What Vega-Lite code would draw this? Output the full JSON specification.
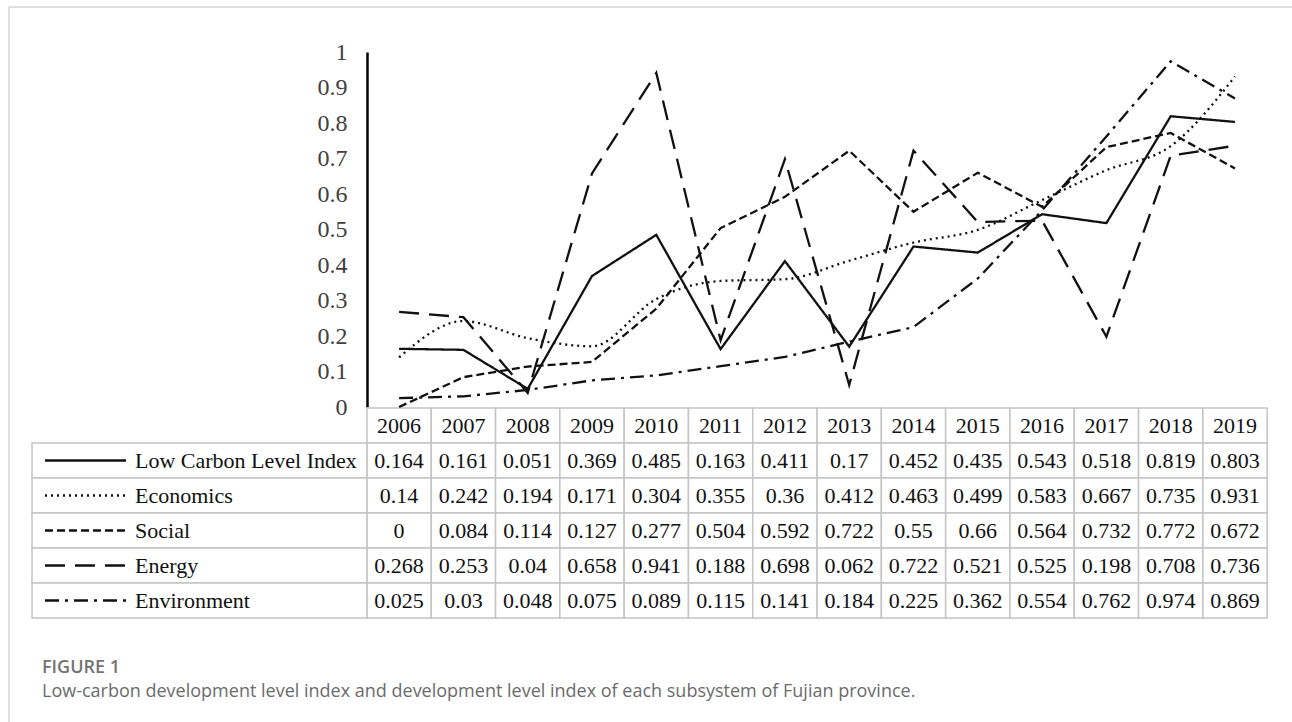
{
  "$schema": "https://vega.github.io/schema/vega-lite/v6.json",
  "width": 1292,
  "height": 722,
  "autosize": {"type": "none"},
  "padding": 0,
  "background": "white",
  "config": {"view": {"stroke": null}, "font": "Liberation Serif"},
  "title": {
    "text": "FIGURE 1",
    "subtitle": "Low-carbon development level index and development level index of each subsystem of Fujian province.",
    "orient": "bottom",
    "anchor": "start",
    "frame": "group",
    "offset": -64,
    "dx": 42,
    "font": "Open Sans",
    "fontSize": 18,
    "fontWeight": 600,
    "color": "#737373",
    "subtitleFont": "Open Sans",
    "subtitleFontSize": 18,
    "subtitleColor": "#6b6b6b",
    "subtitlePadding": 6
  },
  "data": {
    "values": [
      {"year": 2006, "series": "Low Carbon Level Index", "value": 0.164},
      {"year": 2007, "series": "Low Carbon Level Index", "value": 0.161},
      {"year": 2008, "series": "Low Carbon Level Index", "value": 0.051},
      {"year": 2009, "series": "Low Carbon Level Index", "value": 0.369},
      {"year": 2010, "series": "Low Carbon Level Index", "value": 0.485},
      {"year": 2011, "series": "Low Carbon Level Index", "value": 0.163},
      {"year": 2012, "series": "Low Carbon Level Index", "value": 0.411},
      {"year": 2013, "series": "Low Carbon Level Index", "value": 0.17},
      {"year": 2014, "series": "Low Carbon Level Index", "value": 0.452},
      {"year": 2015, "series": "Low Carbon Level Index", "value": 0.435},
      {"year": 2016, "series": "Low Carbon Level Index", "value": 0.543},
      {"year": 2017, "series": "Low Carbon Level Index", "value": 0.518},
      {"year": 2018, "series": "Low Carbon Level Index", "value": 0.819},
      {"year": 2019, "series": "Low Carbon Level Index", "value": 0.803},
      {"year": 2006, "series": "Economics", "value": 0.14},
      {"year": 2007, "series": "Economics", "value": 0.242},
      {"year": 2008, "series": "Economics", "value": 0.194},
      {"year": 2009, "series": "Economics", "value": 0.171},
      {"year": 2010, "series": "Economics", "value": 0.304},
      {"year": 2011, "series": "Economics", "value": 0.355},
      {"year": 2012, "series": "Economics", "value": 0.36},
      {"year": 2013, "series": "Economics", "value": 0.412},
      {"year": 2014, "series": "Economics", "value": 0.463},
      {"year": 2015, "series": "Economics", "value": 0.499},
      {"year": 2016, "series": "Economics", "value": 0.583},
      {"year": 2017, "series": "Economics", "value": 0.667},
      {"year": 2018, "series": "Economics", "value": 0.735},
      {"year": 2019, "series": "Economics", "value": 0.931},
      {"year": 2006, "series": "Social", "value": 0},
      {"year": 2007, "series": "Social", "value": 0.084},
      {"year": 2008, "series": "Social", "value": 0.114},
      {"year": 2009, "series": "Social", "value": 0.127},
      {"year": 2010, "series": "Social", "value": 0.277},
      {"year": 2011, "series": "Social", "value": 0.504},
      {"year": 2012, "series": "Social", "value": 0.592},
      {"year": 2013, "series": "Social", "value": 0.722},
      {"year": 2014, "series": "Social", "value": 0.55},
      {"year": 2015, "series": "Social", "value": 0.66},
      {"year": 2016, "series": "Social", "value": 0.564},
      {"year": 2017, "series": "Social", "value": 0.732},
      {"year": 2018, "series": "Social", "value": 0.772},
      {"year": 2019, "series": "Social", "value": 0.672},
      {"year": 2006, "series": "Energy", "value": 0.268},
      {"year": 2007, "series": "Energy", "value": 0.253},
      {"year": 2008, "series": "Energy", "value": 0.04},
      {"year": 2009, "series": "Energy", "value": 0.658},
      {"year": 2010, "series": "Energy", "value": 0.941},
      {"year": 2011, "series": "Energy", "value": 0.188},
      {"year": 2012, "series": "Energy", "value": 0.698},
      {"year": 2013, "series": "Energy", "value": 0.062},
      {"year": 2014, "series": "Energy", "value": 0.722},
      {"year": 2015, "series": "Energy", "value": 0.521},
      {"year": 2016, "series": "Energy", "value": 0.525},
      {"year": 2017, "series": "Energy", "value": 0.198},
      {"year": 2018, "series": "Energy", "value": 0.708},
      {"year": 2019, "series": "Energy", "value": 0.736},
      {"year": 2006, "series": "Environment", "value": 0.025},
      {"year": 2007, "series": "Environment", "value": 0.03},
      {"year": 2008, "series": "Environment", "value": 0.048},
      {"year": 2009, "series": "Environment", "value": 0.075},
      {"year": 2010, "series": "Environment", "value": 0.089},
      {"year": 2011, "series": "Environment", "value": 0.115},
      {"year": 2012, "series": "Environment", "value": 0.141},
      {"year": 2013, "series": "Environment", "value": 0.184},
      {"year": 2014, "series": "Environment", "value": 0.225},
      {"year": 2015, "series": "Environment", "value": 0.362},
      {"year": 2016, "series": "Environment", "value": 0.554},
      {"year": 2017, "series": "Environment", "value": 0.762},
      {"year": 2018, "series": "Environment", "value": 0.974},
      {"year": 2019, "series": "Environment", "value": 0.869}
    ]
  },
  "resolve": {"scale": {"y": "independent"}, "axis": {"y": "independent"}},
  "layer": [
    {
      "data": {"values": [{"edge": "top"}]},
      "mark": {"type": "rule", "color": "#d4d4d4", "strokeWidth": 1.5},
      "encoding": {
        "x": {"datum": 1999.933, "type": "quantitative", "scale": {"domain": [2006, 2019], "range": [399.1, 1235]}, "axis": null},
        "x2": {"datum": 2019.9},
        "y": {"datum": 1.1268, "type": "quantitative", "scale": {"domain": [0, 1], "range": [407, 52]}, "axis": null}
      }
    },
    {
      "data": {"values": [{"edge": "left"}]},
      "mark": {"type": "rule", "color": "#d4d4d4", "strokeWidth": 1.5},
      "encoding": {
        "x": {"datum": 1999.933, "type": "quantitative", "scale": {"domain": [2006, 2019], "range": [399.1, 1235]}, "axis": null},
        "y": {"datum": 1.1268, "type": "quantitative", "scale": {"domain": [0, 1], "range": [407, 52]}, "axis": null},
        "y2": {"datum": -0.8873}
      }
    },
    {
      "transform": [
        {"filter": "datum.series === 'Low Carbon Level Index'"},
        {"calculate": "datum.year - 0.5", "as": "x0"},
        {"calculate": "datum.year + 0.5", "as": "x1"}
      ],
      "mark": {"type": "rect", "fill": "white", "stroke": "#c4c4c4", "strokeWidth": 1.5},
      "encoding": {
        "x": {"field": "x0", "type": "quantitative", "scale": {"domain": [2006, 2019], "range": [399.1, 1235]}, "axis": null},
        "x2": {"field": "x1"},
        "y": {"datum": "Year", "type": "nominal", "scale": {"type": "band", "domain": ["Year", "Low Carbon Level Index", "Economics", "Social", "Energy", "Environment"], "range": [408, 618], "paddingInner": 0, "paddingOuter": 0}, "axis": null}
      }
    },
    {
      "transform": [
        {"calculate": "datum.year - 0.5", "as": "x0"},
        {"calculate": "datum.year + 0.5", "as": "x1"}
      ],
      "mark": {"type": "rect", "fill": "white", "stroke": "#c4c4c4", "strokeWidth": 1.5},
      "encoding": {
        "x": {"field": "x0", "type": "quantitative", "scale": {"domain": [2006, 2019], "range": [399.1, 1235]}, "axis": null},
        "x2": {"field": "x1"},
        "y": {"field": "series", "type": "nominal", "scale": {"type": "band", "domain": ["Year", "Low Carbon Level Index", "Economics", "Social", "Energy", "Environment"], "range": [408, 618], "paddingInner": 0, "paddingOuter": 0}, "axis": null}
      }
    },
    {
      "transform": [{"filter": "datum.year === 2006"}],
      "mark": {"type": "rect", "fill": "white", "stroke": "#c4c4c4", "strokeWidth": 1.5},
      "encoding": {
        "x": {"datum": 2000.291, "type": "quantitative", "scale": {"domain": [2006, 2019], "range": [399.1, 1235]}, "axis": null},
        "x2": {"datum": 2005.5},
        "y": {"field": "series", "type": "nominal", "scale": {"type": "band", "domain": ["Year", "Low Carbon Level Index", "Economics", "Social", "Energy", "Environment"], "range": [408, 618], "paddingInner": 0, "paddingOuter": 0}, "axis": null}
      }
    },
    {
      "transform": [{"filter": "datum.series === 'Low Carbon Level Index'"}],
      "mark": {"type": "text", "font": "Liberation Serif", "fontSize": 22, "color": "#111111", "align": "center", "baseline": "middle"},
      "encoding": {
        "x": {"field": "year", "type": "quantitative", "scale": {"domain": [2006, 2019], "range": [399.1, 1235]}, "axis": null},
        "y": {"datum": "Year", "type": "nominal", "bandPosition": 0.5, "scale": {"type": "band", "domain": ["Year", "Low Carbon Level Index", "Economics", "Social", "Energy", "Environment"], "range": [408, 618], "paddingInner": 0, "paddingOuter": 0}, "axis": null},
        "text": {"field": "year", "type": "nominal"}
      }
    },
    {
      "mark": {"type": "text", "font": "Liberation Serif", "fontSize": 22, "color": "#111111", "align": "center", "baseline": "middle"},
      "encoding": {
        "x": {"field": "year", "type": "quantitative", "scale": {"domain": [2006, 2019], "range": [399.1, 1235]}, "axis": null},
        "y": {"field": "series", "type": "nominal", "bandPosition": 0.5, "scale": {"type": "band", "domain": ["Year", "Low Carbon Level Index", "Economics", "Social", "Energy", "Environment"], "range": [408, 618], "paddingInner": 0, "paddingOuter": 0}, "axis": null},
        "text": {"field": "value", "type": "nominal"}
      }
    },
    {
      "transform": [{"filter": "datum.year === 2006"}],
      "mark": {"type": "text", "font": "Liberation Serif", "fontSize": 22, "color": "#111111", "align": "left", "baseline": "middle"},
      "encoding": {
        "x": {"datum": 2001.893, "type": "quantitative", "scale": {"domain": [2006, 2019], "range": [399.1, 1235]}, "axis": null},
        "y": {"field": "series", "type": "nominal", "bandPosition": 0.5, "scale": {"type": "band", "domain": ["Year", "Low Carbon Level Index", "Economics", "Social", "Energy", "Environment"], "range": [408, 618], "paddingInner": 0, "paddingOuter": 0}, "axis": null},
        "text": {"field": "series", "type": "nominal"}
      }
    },
    {
      "transform": [{"filter": "datum.year === 2006"}],
      "mark": {"type": "rule", "color": "#111111", "strokeWidth": 2.5, "strokeCap": "butt"},
      "encoding": {
        "x": {"datum": 2000.493, "type": "quantitative", "scale": {"domain": [2006, 2019], "range": [399.1, 1235]}, "axis": null},
        "x2": {"datum": 2001.753},
        "y": {"field": "series", "type": "nominal", "bandPosition": 0.5, "scale": {"type": "band", "domain": ["Year", "Low Carbon Level Index", "Economics", "Social", "Energy", "Environment"], "range": [408, 618], "paddingInner": 0, "paddingOuter": 0}, "axis": null},
        "strokeDash": {"field": "series", "type": "nominal", "scale": {"domain": ["Low Carbon Level Index", "Economics", "Social", "Energy", "Environment"], "range": [[1, 0], [2, 4], [8, 4], [20, 10], [14, 6, 3, 6]]}, "legend": null}
      }
    },
    {
      "transform": [{"filter": "datum.series !== 'Economics'"}],
      "mark": {"type": "line", "color": "#111111", "strokeWidth": 2.3, "strokeCap": "butt"},
      "encoding": {
        "x": {"field": "year", "type": "quantitative", "scale": {"domain": [2006, 2019], "range": [399.1, 1235]}, "axis": null},
        "y": {
          "field": "value", "type": "quantitative",
          "scale": {"domain": [0, 1], "range": [407, 52]},
          "axis": {
            "offset": -367, "ticks": false, "grid": false, "domainColor": "#000000", "domainWidth": 2.5,
            "values": [0, 0.1, 0.2, 0.3, 0.4, 0.5, 0.6, 0.7, 0.8, 0.9, 1], "format": "~g",
            "labelFont": "Liberation Serif", "labelFontSize": 24, "labelColor": "#404040", "labelPadding": 20, "title": null
          }
        },
        "strokeDash": {"field": "series", "type": "nominal", "scale": {"domain": ["Low Carbon Level Index", "Economics", "Social", "Energy", "Environment"], "range": [[1, 0], [2, 4], [8, 4], [20, 10], [14, 6, 3, 6]]}, "legend": null}
      }
    },
    {
      "transform": [{"filter": "datum.series === 'Economics'"}],
      "mark": {"type": "line", "color": "#111111", "strokeWidth": 2.3, "strokeCap": "butt", "interpolate": "monotone"},
      "encoding": {
        "x": {"field": "year", "type": "quantitative", "scale": {"domain": [2006, 2019], "range": [399.1, 1235]}, "axis": null},
        "y": {"field": "value", "type": "quantitative", "scale": {"domain": [0, 1], "range": [407, 52]}, "axis": null},
        "strokeDash": {"field": "series", "type": "nominal", "scale": {"domain": ["Low Carbon Level Index", "Economics", "Social", "Energy", "Environment"], "range": [[1, 0], [2, 4], [8, 4], [20, 10], [14, 6, 3, 6]]}, "legend": null}
      }
    }
  ]
}
